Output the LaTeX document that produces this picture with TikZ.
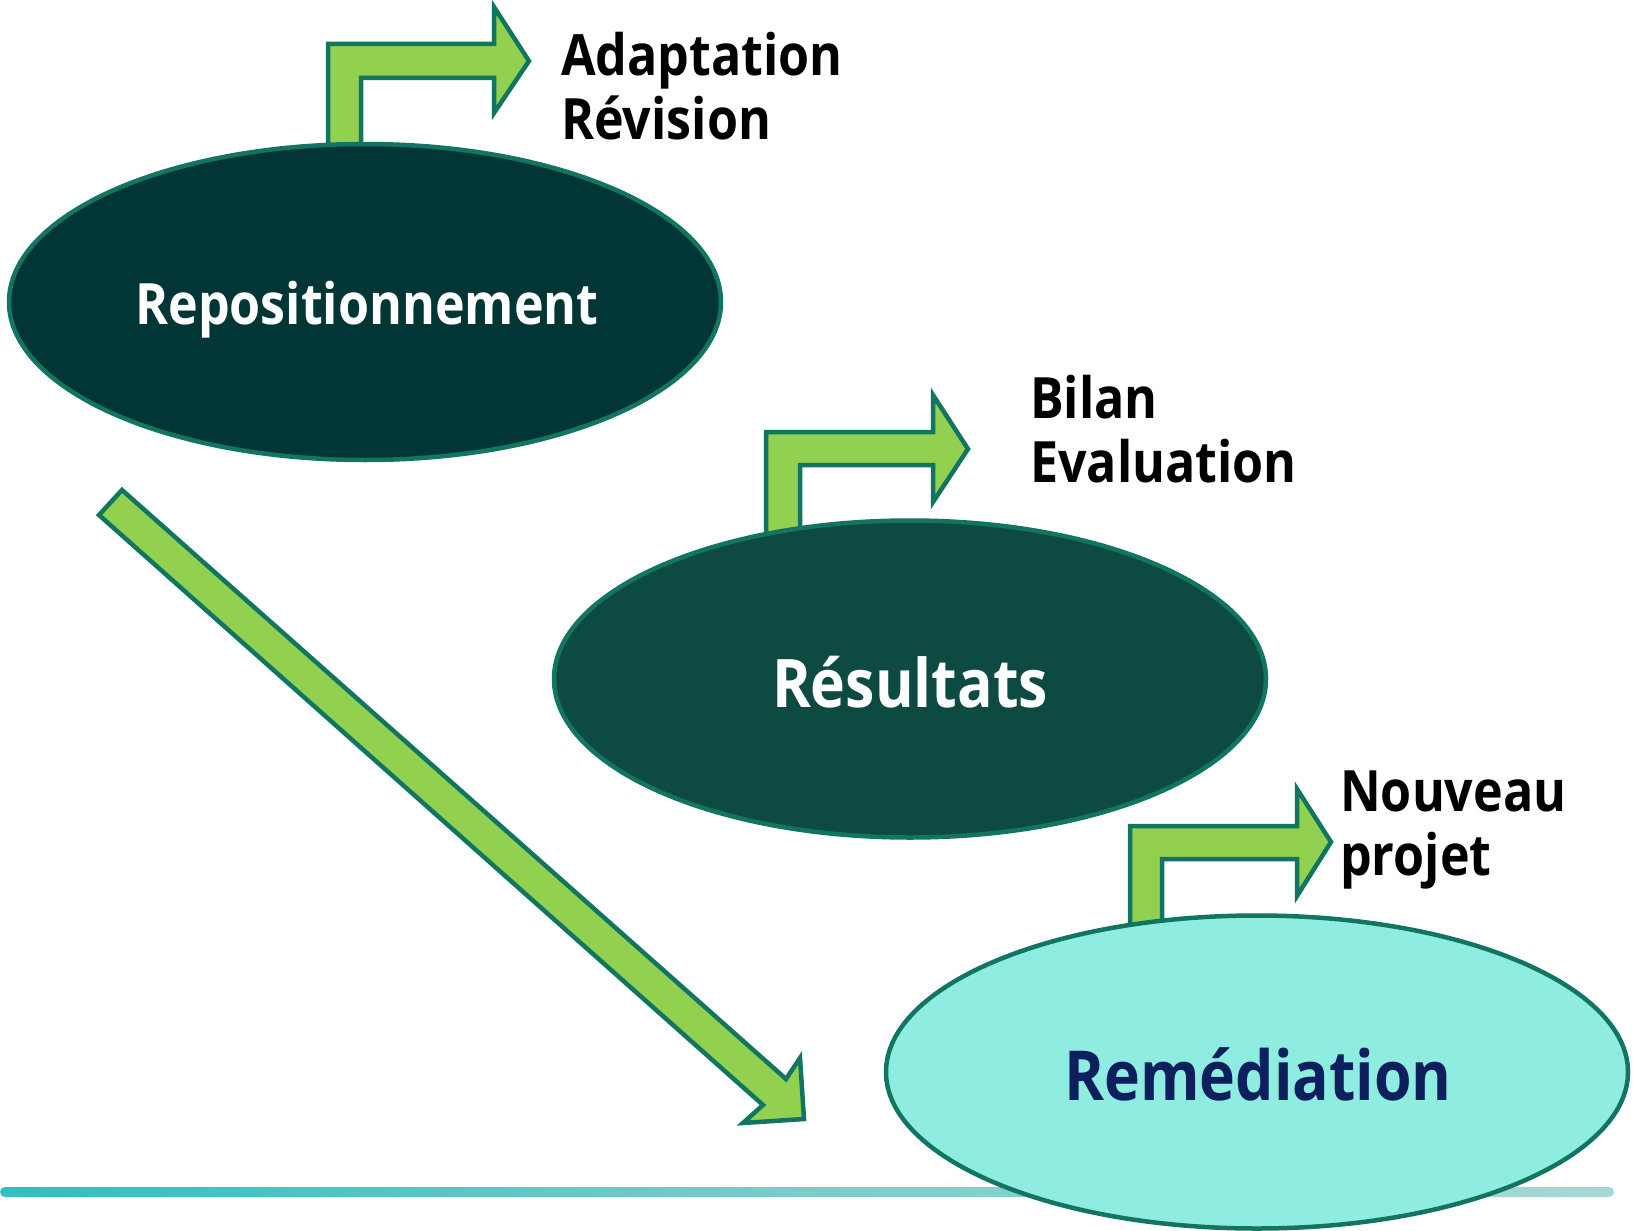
\documentclass[tikz,border=0pt]{standalone}
\usepackage{fontspec}
\setmainfont{Open Sans}[BoldFeatures={FakeStretch=0.88}]
\usetikzlibrary{shapes.geometric}
\definecolor{edgegreen}{HTML}{127561}
\definecolor{arrowgreen}{HTML}{92D050}
\definecolor{darkone}{HTML}{023535}
\definecolor{darktwo}{HTML}{0D4A42}
\definecolor{lightthree}{HTML}{8EEDE0}
\definecolor{navytext}{HTML}{0D1F5C}
\definecolor{lineleft}{HTML}{00B8B8}
\definecolor{linemid}{HTML}{7CCCCA}
\definecolor{lineright}{HTML}{BCE0DE}
\pgfdeclarehorizontalshading{baselineshade}{100bp}{color(0bp)=(lineleft); color(10bp)=(lineleft); color(50bp)=(linemid); color(90bp)=(lineright); color(100bp)=(lineright)}
\tikzset{
  arrowshape/.style={draw=edgegreen, fill=arrowgreen, line width=4.5pt, line join=miter},
  stage/.style={ellipse, draw=edgegreen, line width=4.5pt, inner sep=0pt},
  lbl/.style={inner sep=0pt, anchor=base west, font=\fontsize{57}{64}\selectfont\bfseries, text=black},
  stagetext/.style={inner sep=0pt, anchor=base, font=\bfseries},
}
\begin{document}
\begin{tikzpicture}[x=1pt, y=-1pt]
\useasboundingbox (0,0) rectangle (1639,1231);
% bottom gradient line
\shade[shading=baselineshade, rounded corners=5pt] (0,1187) rectangle (1614,1197);
% bent arrows
\draw[arrowshape] (328,152) -- (328,44) -- (494,44) -- (494,7) -- (529,61) -- (494,113) -- (494,78) -- (361,78) -- (361,152) -- cycle;
\draw[arrowshape] (766,538) -- (766,432) -- (933,432) -- (933,395) -- (968,449) -- (933,502) -- (933,465) -- (800,465) -- (800,538) -- cycle;
\draw[arrowshape] (1130,928) -- (1130,826) -- (1297,826) -- (1297,789) -- (1331,842) -- (1297,896) -- (1297,859) -- (1162,859) -- (1162,928) -- cycle;
% diagonal arrow
\draw[arrowshape] (122,490) -- (786,1079) -- (800,1058) -- (804,1119) -- (743,1123) -- (763,1105) -- (99,515) -- cycle;
% stages
\node[stage, fill=darkone, minimum width=712pt, minimum height=316pt] (repo) at (365,302) {};
\node[stage, fill=darktwo, minimum width=712pt, minimum height=317pt] (resu) at (910,679) {};
\node[stage, fill=lightthree, minimum width=742pt, minimum height=313pt] (reme) at (1257,1072) {};
\node[stagetext, text=white, font=\fontsize{57}{64}\selectfont\bfseries] (repotxt) at (367,324) {Repositionnement};
\node[stagetext, text=white, font=\fontsize{67}{72}\selectfont\bfseries] (resutxt) at (910,707) {Résultats};
\node[stagetext, text=navytext, font=\fontsize{69}{72}\selectfont\bfseries] (remetxt) at (1258,1100) {Remédiation};
% side labels
\node[lbl] (adap) at (561,75) {Adaptation};
\node[lbl] (revi) at (561,139) {Révision};
\node[lbl] (bila) at (1030,418) {Bilan};
\node[lbl] (eval) at (1030,482) {Evaluation};
\node[lbl] (nouv) at (1340,811) {Nouveau};
\node[lbl] (proj) at (1340,875) {projet};
\end{tikzpicture}
\end{document}
